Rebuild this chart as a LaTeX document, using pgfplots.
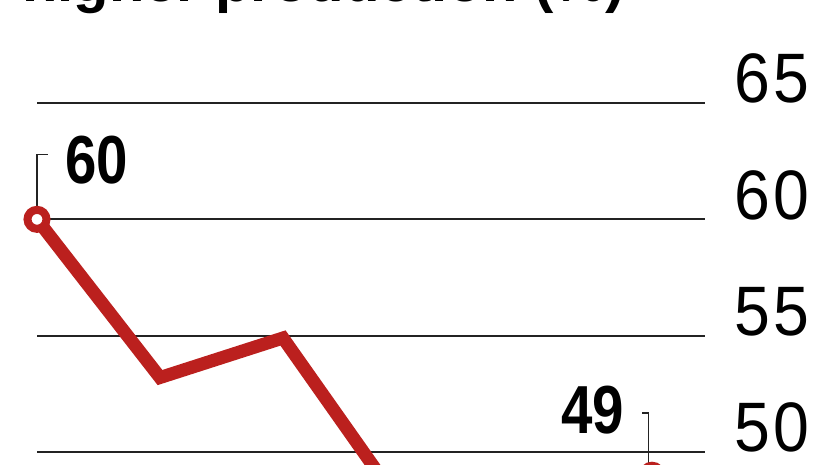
\documentclass[border=0pt]{standalone}
\usepackage{pgfplots}
\pgfplotsset{compat=1.18}
\usepackage{fontspec}
\setmainfont{Liberation Sans}
\usepackage{graphicx}
\definecolor{linered}{RGB}{187,32,30}
\definecolor{gridc}{RGB}{35,35,35}
\begin{document}
\begin{tikzpicture}[x=1pt,y=1pt]
\useasboundingbox (0,0) rectangle (826,465);
\clip (0,0) rectangle (826,465);
\node[anchor=base west, inner sep=0pt, font=\fontsize{58}{60}\selectfont\bfseries] at (22,463) {higher production (\%)};
\begin{axis}[
  at={(37pt,13pt)}, anchor=south west,
  scale only axis, width=668pt, height=349pt,
  xmin=0, xmax=5.431, ymin=50, ymax=65,
  clip=false,
  axis line style={draw=none},
  major tick length=0pt,
  xtick=\empty,
  ytick={50,55,60,65},
  yticklabels={5\kern4pt0, 5\kern4pt5, 6\kern4pt0, 6\kern4pt5},
  yticklabel pos=right,
  yticklabel style={anchor=base west, inner sep=0pt, xshift=29pt, font=\fontsize{70}{72}\selectfont, xscale=0.92},
  ymajorgrids,
  grid style={line width=1.8pt, color=gridc},
]
\addplot[linered, line width=13pt, mark=none] coordinates {(0,60) (1,53.2) (2,54.9) (3,47.4) (4,47.8) (5,49)};
\addplot[only marks, mark=*, mark size=9.5pt, mark options={fill=white, draw=linered, line width=8pt}] coordinates {(0,60) (5,49)};
\draw[gridc, line width=1.5pt] (axis cs:0,60.45) -- (axis cs:0,62.79) -- (axis cs:0.089,62.79);
\draw[gridc, line width=1.5pt] (axis cs:4.97,49.5) -- (axis cs:4.97,51.68) -- (axis cs:4.919,51.68);
\node[anchor=base west, inner sep=0pt, font=\fontsize{68}{70}\selectfont\bfseries] at (axis cs:0.228,61.52) {\scalebox{0.83}[1]{60}};
\node[anchor=base west, inner sep=0pt, font=\fontsize{68}{70}\selectfont\bfseries] at (axis cs:4.26,50.78) {\scalebox{0.83}[1]{49}};
\end{axis}
\end{tikzpicture}
\end{document}
